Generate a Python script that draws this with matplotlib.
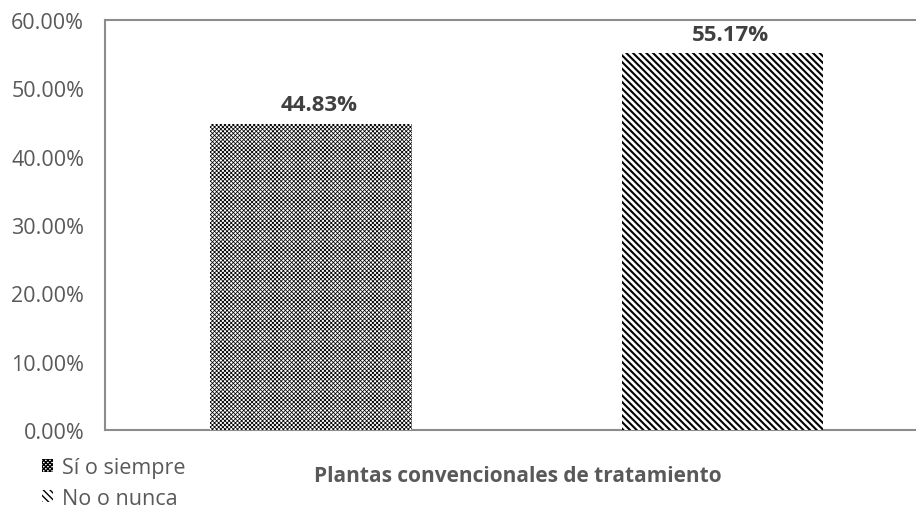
import matplotlib.pyplot as plt
from matplotlib.ticker import FuncFormatter

series = ['Sí o siempre', 'No o nunca']
values = [44.83, 55.17]
hatches = ['xxxxxxxx', '\\\\\\\\\\']
hatch_lw = [0.55, 1.5]
y_ticks = [0, 10, 20, 30, 40, 50, 60]
xlabel = 'Plantas convencionales de tratamiento'

plt.rcParams['font.family'] = ['Open Sans', 'DejaVu Sans']

fig = plt.figure(figsize=(9.16, 5.10), dpi=100)
ax = fig.add_axes([105 / 916, 79 / 510, 811 / 916, 410 / 510])

for i, (name, v, h, lw) in enumerate(zip(series, values, hatches, hatch_lw)):
    with plt.rc_context({'hatch.linewidth': lw}):
        ax.bar(i, v, width=0.49, color='white', edgecolor='black',
               linewidth=0, hatch=h, label=name, zorder=3)
    ax.text(i + 0.02, v + 1.2, f"{v:.2f}%", ha='center', va='bottom',
            fontsize=16, fontweight='bold', color='#404040')

ax.set_xlim(-0.5, 1.47)
ax.set_ylim(0, 60)
ax.set_yticks(y_ticks)
ax.yaxis.set_major_formatter(FuncFormatter(lambda v, p: f"{v:.2f}%"))
ax.set_xticks([])
ax.tick_params(axis='y', length=0, pad=15, labelsize=15.5, labelcolor='#595959')

for s in ['left', 'top', 'bottom']:
    ax.spines[s].set_color('#8c8c8c')
    ax.spines[s].set_linewidth(1.5)
ax.spines['right'].set_visible(False)

fig.text(518 / 916, 1 - 477 / 510, xlabel, ha='center', va='center',
         fontsize=15, fontweight='bold', color='#595959')

fig.legend(loc='center left', bbox_to_anchor=(31 / 916, 1 - 484 / 510),
           frameon=False, fontsize=15.5, labelcolor='#595959',
           handlelength=0.5, handleheight=0.5, handletextpad=0.45,
           labelspacing=0.45, borderpad=0)

fig.savefig('out.png', dpi=100)
